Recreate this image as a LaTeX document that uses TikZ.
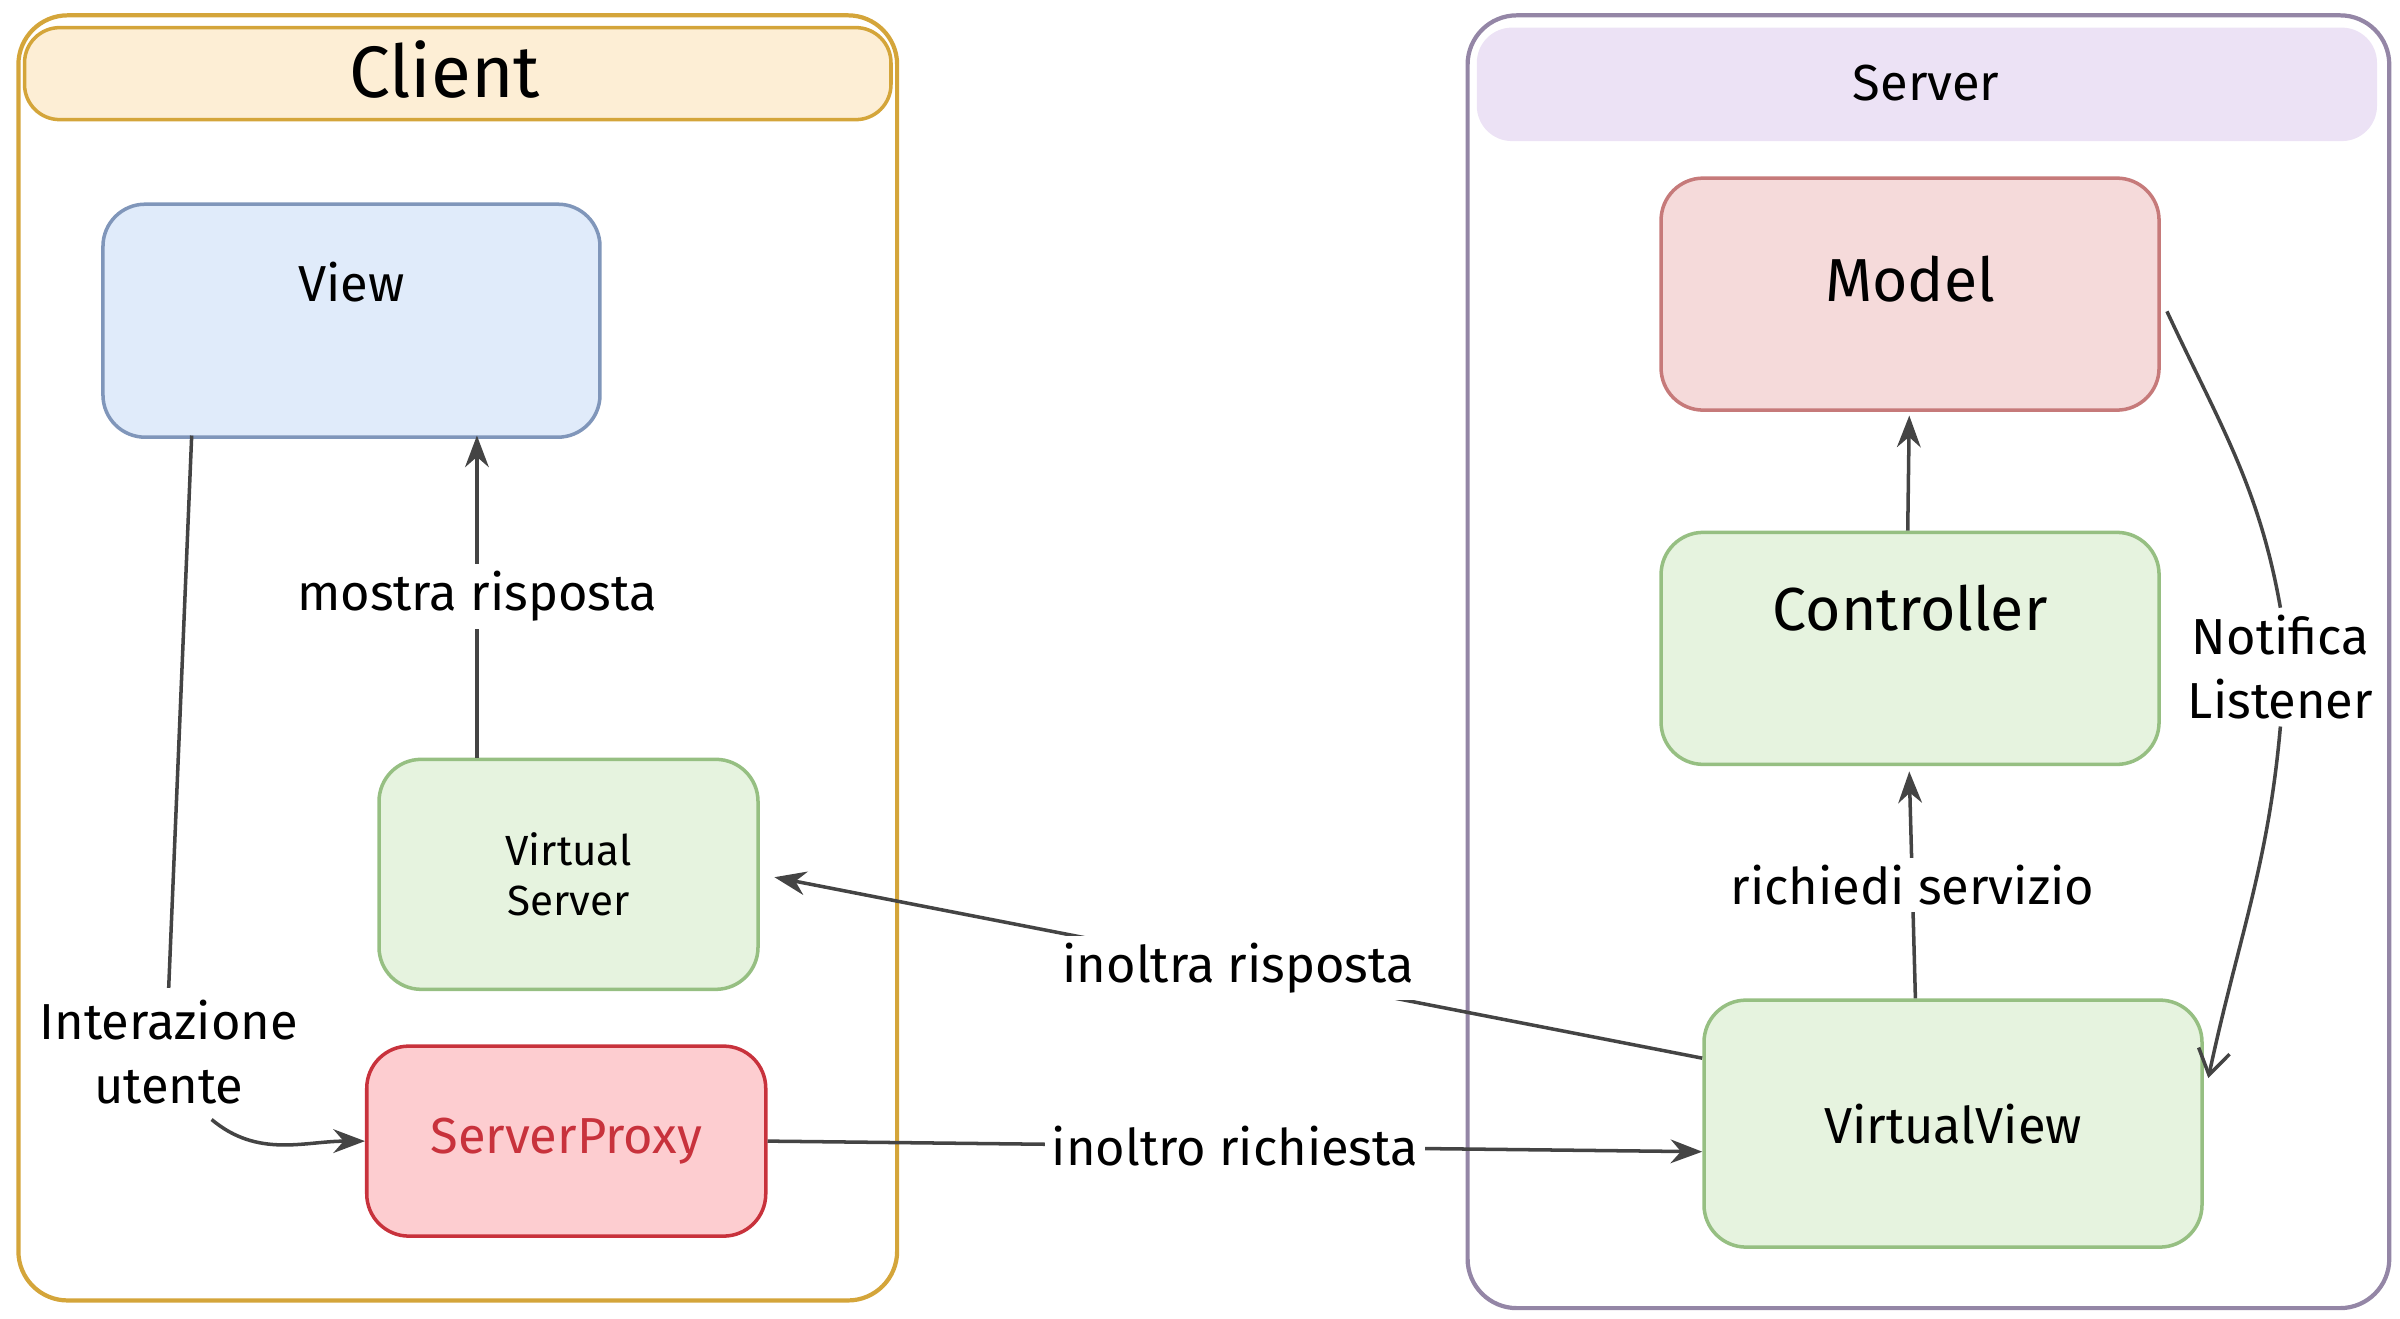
\documentclass[tikz,border=0pt]{standalone}
\usepackage{fontspec}
\setmainfont{Fira Sans}
\usetikzlibrary{arrows.meta}
\definecolor{clientedge}{HTML}{D4A53A}
\definecolor{clientfill}{HTML}{FDEED5}
\definecolor{serveredge}{HTML}{9486A6}
\definecolor{serverfill}{HTML}{ECE2F5}
\definecolor{viewfill}{HTML}{E0EBFA}
\definecolor{viewedge}{HTML}{8096BA}
\definecolor{greenfill}{HTML}{E6F3DF}
\definecolor{greenedge}{HTML}{96BF82}
\definecolor{redfill}{HTML}{FDCDD0}
\definecolor{rededge}{HTML}{C8323C}
\definecolor{modelfill}{HTML}{F5DADA}
\definecolor{modeledge}{HTML}{C67A7A}
\definecolor{wire}{HTML}{444444}
\tikzset{
  box/.style={draw,rounded corners=12pt,line width=1pt,align=center,font=\Large},
  link/.style={draw=wire,line width=1pt,-{Stealth[length=9pt]}},
  tag/.style={fill=white,inner sep=2pt,font=\Large,align=center}
}
\begin{document}
\begin{tikzpicture}[x=0.015335cm,y=-0.015335cm]
  \useasboundingbox (0,0) rectangle (1565,860);

  % client side
  \draw[clientedge,line width=1.2pt,rounded corners=14pt] (12,10) rectangle (585,848);
  \draw[clientedge,fill=clientfill,line width=1pt,rounded corners=10pt] (16,18) rectangle (581,78);
  \node (client) at (290,45) {\huge Client};

  \node[box,fill=viewfill,draw=viewedge,anchor=north west,
    minimum width=4.97cm,minimum height=2.33cm,text depth=0.78cm] (view) at (66,132) {View};
  \node[box,fill=greenfill,draw=greenedge,anchor=north west,
    minimum width=3.79cm,minimum height=2.3cm,font=\large] (vserver) at (246,494) {Virtual\\Server};
  \node[box,fill=redfill,draw=rededge,text=rededge,anchor=north west,
    minimum width=3.99cm,minimum height=1.9cm] (proxy) at (238,681) {ServerProxy};

  % server side
  \draw[serveredge,line width=1.2pt,rounded corners=14pt] (957,10) rectangle (1558,853);
  \fill[serverfill,rounded corners=10pt] (963,18) rectangle (1550,92);
  \node (server) at (1256,54) {\Large Server};

  \node[box,fill=modelfill,draw=modeledge,anchor=north west,
    minimum width=4.98cm,minimum height=2.32cm,text depth=0.3cm,font=\LARGE] (model) at (1082,115) {Model};
  \node[box,fill=greenfill,draw=greenedge,anchor=north west,
    minimum width=4.98cm,minimum height=2.32cm,text depth=0.82cm,font=\LARGE] (controller) at (1082,346) {Controller};
  \node[box,fill=greenfill,draw=greenedge,anchor=north west,
    minimum width=4.98cm,minimum height=2.47cm] (vview) at (1110,651) {VirtualView};

  % connectors
  \coordinate (vsup) at (311,494);
  \coordinate (viewdown) at (311,284);
  \draw[link] (vsup) -- node[tag] {mostra risposta} (viewdown);

  \coordinate (viewleft) at (125,284);
  \node[font=\Large,align=center] (user) at (110,686) {Interazione\\utente};
  \draw[wire,line width=1pt] (viewleft) -- (user.north);
  \draw[link] (138,730) to[out=-40,in=180] (proxy.west);

  \coordinate (vvin) at (1110,751);
  \draw[link] (proxy.east) -- node[tag] {inoltro richiesta} (vvin);
  \coordinate (vvout) at (1110,690);
  \coordinate (vsin) at (505,572);
  \draw[link] (vvout) -- node[tag] {inoltra risposta} (vsin);

  \coordinate (vvtop) at (1249,651);
  \coordinate (ctrlin) at (1245,503);
  \draw[link] (vvtop) -- node[tag] {richiedi servizio} (ctrlin);
  \coordinate (ctrltop) at (1244,346);
  \coordinate (modelin) at (1245,271);
  \draw[link] (ctrltop) -- (modelin);

  \coordinate (modelout) at (1413,203);
  \coordinate (vvright) at (1440,703);
  \node[tag] (notify) at (1487,435) {Notifica\\Listener};
  \draw[wire,line width=1pt] (modelout) to[out=-65,in=100] (notify.north);
  \draw[wire,line width=1pt,-{Straight Barb[length=7pt,width=9pt]}] (notify.south) to[out=-95,in=78] (vvright);
\end{tikzpicture}
\end{document}
